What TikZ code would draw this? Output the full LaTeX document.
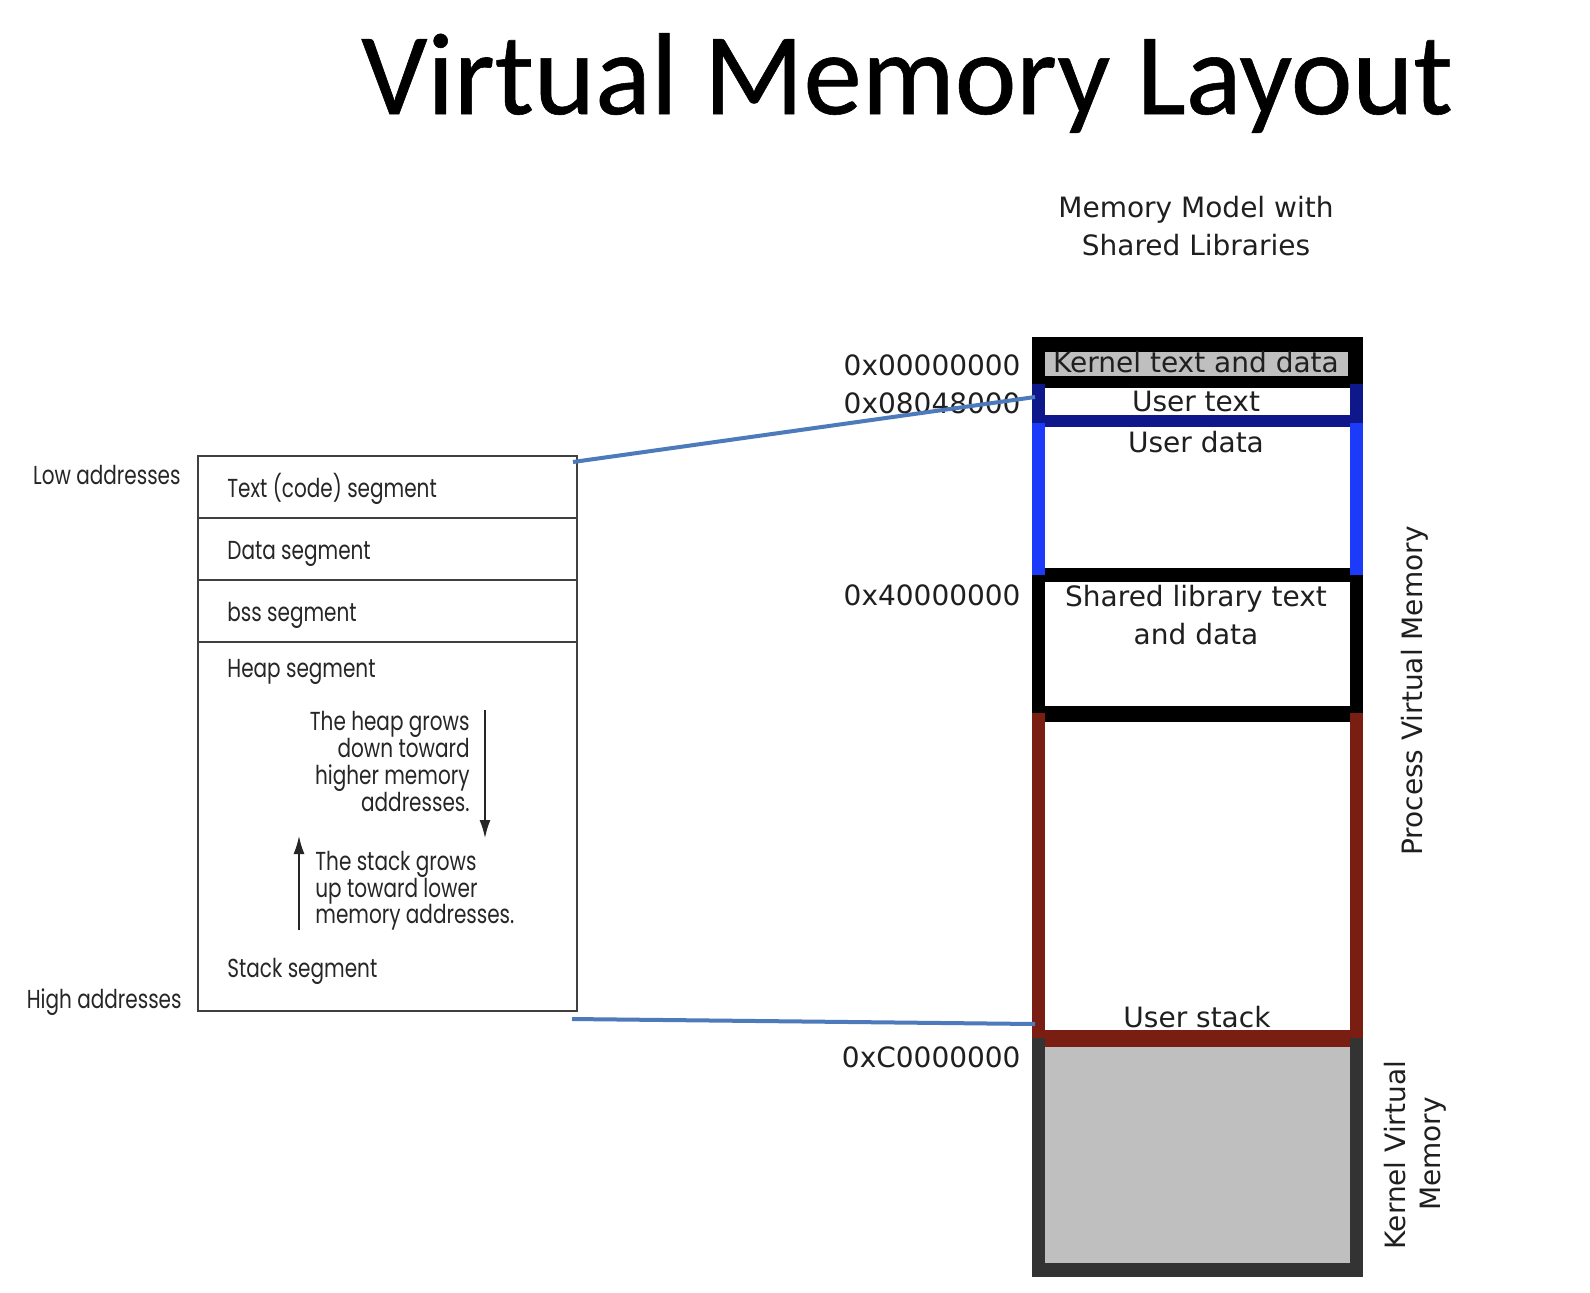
\documentclass[tikz,border=0pt]{standalone}
\usepackage{fontspec}
\setmainfont{DejaVu Sans}
\newfontfamily\titlefont[FakeBold=0.5]{Carlito}
\newfontfamily\futfont[FakeStretch=0.77]{Poppins}
\usetikzlibrary{arrows.meta}
\definecolor{navyb}{RGB}{14,24,138}
\definecolor{brightb}{RGB}{28,58,250}
\definecolor{dred}{RGB}{122,30,20}
\definecolor{dgray}{RGB}{51,51,51}
\definecolor{lgray}{RGB}{191,191,191}
\definecolor{conn}{RGB}{76,122,186}
\begin{document}
\begin{tikzpicture}[x=0.5pt,y=-0.5pt,
  rtext/.style={font=\fontsize{14}{17.5}\selectfont, inner sep=0pt, text=black!88},
  ltext/.style={font=\futfont\fontsize{13}{14}\selectfont, inner sep=0pt, text=black!85},
  seg/.style={draw=black!75, line width=1pt},
  connector/.style={draw=conn, line width=2pt},
  growarrow/.style={-{Latex[length=9pt,width=5.5pt]}, line width=0.8pt, draw=black!85, fill=black!85}
]
\useasboundingbox (0,0) rectangle (1590,1292);
\fill[white] (0,0) rectangle (1590,1292);

% title
\node[font=\titlefont\fontsize{58.3}{60}\selectfont, anchor=base, inner sep=0pt] (title) at (907,114) {Virtual Memory Layout};

% ---------------- left box ----------------
\draw[seg] (198,456) rectangle (577,1011);
\draw[seg] (198,518) -- (577,518);
\draw[seg] (198,580) -- (577,580);
\draw[seg] (198,642) -- (577,642);
\coordinate (lbtop) at (573,462);
\coordinate (lbbot) at (572,1019);

\node[ltext, anchor=base east] (low) at (181,484) {Low addresses};
\node[ltext, anchor=base east] (high) at (182,1008) {High addresses};
\node[ltext, anchor=base west] (textseg) at (227,497) {Text (code) segment};
\node[ltext, anchor=base west] (dataseg) at (227,559) {Data segment};
\node[ltext, anchor=base west] (bssseg) at (227,621) {bss segment};
\node[ltext, anchor=base west] (heapseg) at (227,677) {Heap segment};
\node[ltext, anchor=base east] (h1) at (470,730) {The heap grows};
\node[ltext, anchor=base east] (h2) at (470,757) {down toward};
\node[ltext, anchor=base east] (h3) at (470,784) {higher memory};
\node[ltext, anchor=base east] (h4) at (470,811) {addresses.};
\node[ltext, anchor=base west] (s1) at (315,870) {The stack grows};
\node[ltext, anchor=base west] (s2) at (315,897) {up toward lower};
\node[ltext, anchor=base west] (s3) at (315,923) {memory addresses.};
\node[ltext, anchor=base west] (stackseg) at (227,977) {Stack segment};
\coordinate (hdA) at (485,710);
\coordinate (hdB) at (485,838);
\coordinate (suA) at (299,930);
\coordinate (suB) at (299,836);
\draw[growarrow] (hdA) -- (hdB);
\draw[growarrow] (suA) -- (suB);

% ---------------- right box ----------------
% kernel virtual memory (dark gray frame, gray inside)
\fill[dgray] (1032,1038) rectangle (1045,1277);
\fill[dgray] (1350,1038) rectangle (1363,1277);
\fill[dgray] (1032,1263) rectangle (1363,1277);
\fill[lgray] (1045,1047) rectangle (1350,1263);
% user stack region (dark red)
\fill[dred] (1032,713) rectangle (1045,1038);
\fill[dred] (1350,713) rectangle (1363,1038);
\fill[dred] (1045,1030) rectangle (1350,1047);
% shared library (black)
\fill[black] (1032,575) rectangle (1045,713);
\fill[black] (1350,575) rectangle (1363,713);
\fill[black] (1045,568) rectangle (1350,582);
\fill[black] (1045,706) rectangle (1350,722);
% user data (bright blue sides)
\fill[brightb] (1032,423) rectangle (1045,575);
\fill[brightb] (1350,423) rectangle (1363,575);
% user text (navy)
\fill[navyb] (1032,384) rectangle (1045,423);
\fill[navyb] (1350,384) rectangle (1363,423);
\fill[navyb] (1045,415) rectangle (1350,427);
% kernel text and data (black with gray inset)
\fill[black] (1032,337) rectangle (1363,384);
\fill[black] (1045,384) rectangle (1350,388);
\fill[lgray] (1045,352) rectangle (1348,376);

\coordinate (utext) at (1035,397);
\coordinate (ustack) at (1035,1024);

\node[rtext, anchor=base] (mm1) at (1196,217) {Memory Model with};
\node[rtext, anchor=base] (mm2) at (1196,255) {Shared Libraries};
\node[rtext, anchor=base east] (a0) at (1021,375) {0x00000000};
\node[rtext, anchor=base east] (a1) at (1021,413) {0x08048000};
\node[rtext, anchor=base east] (a4) at (1021,605) {0x40000000};
\node[rtext, anchor=base east] (ac) at (1021,1067) {0xC0000000};
\node[rtext, anchor=base] (kt) at (1196,372) {Kernel text and data};
\node[rtext, anchor=base] (ut) at (1196,411) {User text};
\node[rtext, anchor=base] (ud) at (1196,452) {User data};
\node[rtext, anchor=base] (sl1) at (1196,606) {Shared library text};
\node[rtext, anchor=base] (sl2) at (1196,644) {and data};
\node[rtext, anchor=base] (us) at (1197,1027) {User stack};
\node[rtext, anchor=base, rotate=90] (pvm) at (1422,691) {Process Virtual Memory};
\node[rtext, anchor=base, rotate=90] (kvm1) at (1405,1155) {Kernel Virtual};
\node[rtext, anchor=base, rotate=90] (kvm2) at (1440,1154) {Memory};

% connectors
\draw[connector] (lbtop) -- (utext);
\draw[connector] (lbbot) -- (ustack);
\end{tikzpicture}
\end{document}
